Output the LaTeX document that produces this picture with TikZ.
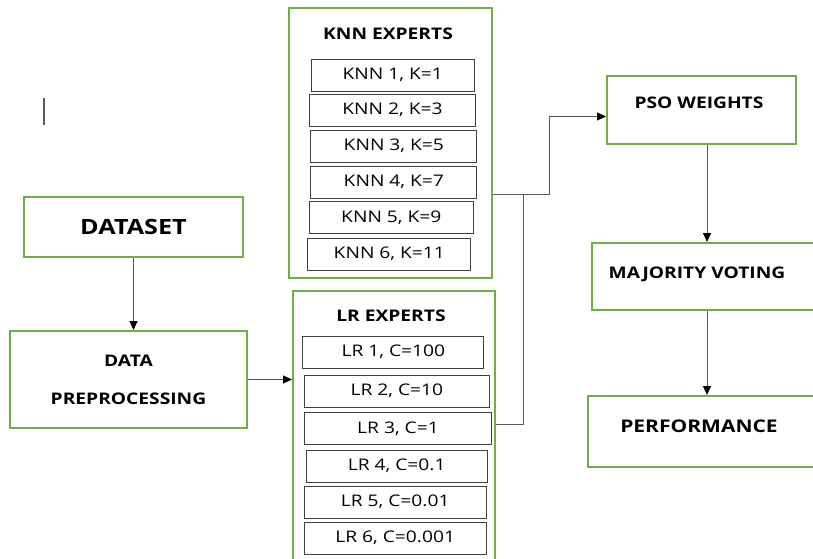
\documentclass[tikz,border=0pt]{standalone}
\usepackage{fontspec}
\setmainfont{Open Sans}[FakeStretch=1.2]
\usetikzlibrary{arrows.meta}
\definecolor{stagegreen}{HTML}{70AD47}
\definecolor{wiregray}{HTML}{5A5A5A}
\tikzset{
    stage/.style={draw=stagegreen, line width=2pt, fill=white, inner sep=0pt}, % green stage boxes
    expert/.style={draw=black!75, line width=1pt, fill=white, minimum height=32pt, inner sep=0pt, font=\fontsize{16}{19}\selectfont},
    title/.style={font=\fontsize{16}{19}\selectfont\bfseries, inner sep=0pt},
    link/.style={draw=wiregray, line width=1pt, -{Triangle[length=9pt,width=8pt,color=black]}},
    wire/.style={draw=wiregray, line width=1pt}
}

\begin{document}
\begin{tikzpicture}[x=1pt, y=-1pt]
    \useasboundingbox (0,0) rectangle (813,558);
    \clip (0,0) rectangle (813,558);

    % stages
    \node (dataset) [stage, title, font=\fontsize{21}{25}\selectfont\bfseries, minimum width=219pt, minimum height=60pt] at (133.5,227) {DATASET};
    \node (prep) [stage, title, align=center, minimum width=237pt, minimum height=97pt] at (128.5,379.5) {DATA\\[19pt]PREPROCESSING};
    \node (knn) [stage, minimum width=203pt, minimum height=270pt] at (390.5,143) {};
    \node (lr) [stage, minimum width=202pt, minimum height=309pt] at (394,445.5) {};
    \node (pso) [stage, minimum width=189pt, minimum height=68pt] at (701.5,110) {};
    \node (vote) [stage, minimum width=248pt, minimum height=67pt] at (716,276.5) {};
    \node (perf) [stage, minimum width=252pt, minimum height=71pt] at (714,431.5) {};

    % stage titles
    \node (knntitle) [title] at (388,34) {KNN EXPERTS};
    \node (lrtitle) [title] at (391,316) {LR EXPERTS};
    \node (psotext) [title] at (699,103) {PSO WEIGHTS};
    \node (votetext) [title] at (697,274) {MAJORITY VOTING};
    \node (perftext) [title, font=\fontsize{17.5}{21}\selectfont\bfseries] at (699,426) {PERFORMANCE};

    % KNN experts
    \node (knn1) [expert, minimum width=163pt] at (392.7,75) {KNN 1, K=1};
    \node (knn2) [expert, minimum width=166.4pt] at (392.5,110) {KNN 2, K=3};
    \node (knn3) [expert, minimum width=165.7pt] at (393.8,146) {KNN 3, K=5};
    \node (knn4) [expert, minimum width=165.7pt] at (393.8,182) {KNN 4, K=7};
    \node (knn5) [expert, minimum width=164pt] at (391.3,217.3) {KNN 5, K=9};
    \node (knn6) [expert, minimum width=163.3pt] at (389.3,254) {KNN 6, K=11};

    % LR experts
    \node (lr1) [expert, minimum width=181.3pt] at (393.3,352) {LR 1, C=100};
    \node (lr2) [expert, minimum width=185pt] at (396.8,391) {LR 2, C=10};
    \node (lr3) [expert, minimum width=187.4pt] at (398,428.5) {LR 3, C=1};
    \node (lr4) [expert, minimum width=181.3pt] at (396.7,466) {LR 4, C=0.1};
    \node (lr5) [expert, minimum width=181.7pt] at (395.2,502) {LR 5, C=0.01};
    \node (lr6) [expert, minimum width=181.7pt] at (395.2,538) {LR 6, C=0.001};

    % junctions
    \coordinate (join) at (549,194);
    \coordinate (split) at (523,194);
    \coordinate (lrout) at (523,424);
    \coordinate (spine) at (707,0);

    \draw[link] (dataset.south) -- (dataset.south |- prep.north);
    \draw[link] (prep.east) -- (prep.east -| lr.west);
    \draw[link] (join -| knn.east) -- (join) |- ([yshift=-6.5pt]pso.west);
    \draw[wire] (lrout -| lr.east) -- (lrout) -- (split);
    \draw[link] (spine |- pso.south) -- (spine |- vote.north);
    \draw[link] (spine |- vote.south) -- (spine |- perf.north);

    \draw[wiregray, line width=2pt] (44,98) -- (44,125); % stray mark
\end{tikzpicture}
\end{document}
